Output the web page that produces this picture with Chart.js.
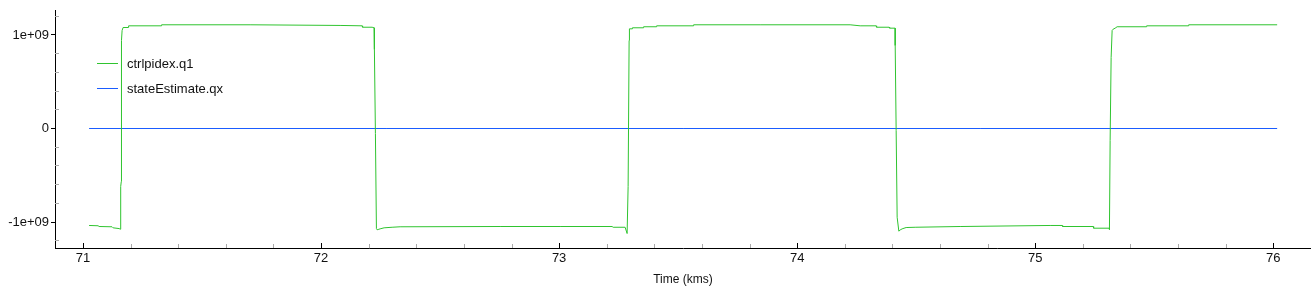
<!DOCTYPE html>
<html>
<head>
<meta charset="utf-8">
<script src="https://cdn.jsdelivr.net/npm/chart.js@4/dist/chart.umd.min.js"></script>
<style>
  html, body { margin: 0; padding: 0; background: #fff; }
  #wrap { width: 1311px; height: 289px; }
</style>
</head>
<body>
<div id="wrap"><canvas id="graphCanvas"></canvas></div>
<script>
// time in kms
var q1Time = [
    71.0252, 71.0630, 71.0672, 71.1218, 71.1261, 71.1513, 71.1567,
    71.1580, 71.1605, 71.1613, 71.1639, 71.1681, 71.1891, 71.1912, 71.3277, 71.3298,
    71.7017, 72.0798, 72.1723, 72.1744, 72.2143, 72.2227,
    72.2239, 72.2282, 72.2324, 72.2353, 72.2395, 72.2479, 72.2647, 72.2983, 72.3319,
    72.7521, 73.0042, 73.2227, 73.2270, 73.2773, 73.2857,
    73.2899, 73.2941, 73.2954, 73.3067, 73.3080, 73.3529, 73.3550, 73.4076, 73.4097,
    73.5630, 73.5651, 73.8445, 74.2227, 74.2647, 74.3319, 74.3340, 74.3866, 74.3887, 74.4118,
    74.4120, 74.4160, 74.4202, 74.4273, 74.4328, 74.4412, 74.4580, 74.4958, 74.6849,
    75.0630, 75.1134, 75.1155, 75.2437, 75.2458, 75.3109, 75.3122,
    75.3151, 75.3193, 75.3235, 75.3277, 75.3361, 75.3445, 75.4664, 75.4685,
    75.6429, 75.6450, 76.0168
];
var q1Value = [
    -1.037e9, -1.040e9, -1.048e9, -1.051e9, -1.062e9, -1.070e9, -1.077e9,
    -0.620e9, -0.567e9, 0.941e9, 1.048e9, 1.080e9, 1.080e9, 1.098e9, 1.098e9, 1.109e9,
    1.109e9, 1.102e9, 1.098e9, 1.083e9, 1.083e9, 1.077e9,
    0.845e9, -0.053e9, -1.070e9, -1.083e9, -1.080e9, -1.073e9, -1.062e9, -1.056e9, -1.051e9,
    -1.048e9, -1.048e9, -1.048e9, -1.056e9, -1.056e9, -1.123e9,
    -0.620e9, 0.941e9, 1.066e9, 1.066e9, 1.077e9, 1.077e9, 1.088e9, 1.088e9, 1.098e9,
    1.098e9, 1.109e9, 1.109e9, 1.109e9, 1.098e9, 1.098e9, 1.083e9, 1.083e9, 1.073e9, 1.073e9,
    0.888e9, -0.021e9, -0.949e9, -1.098e9, -1.085e9, -1.073e9, -1.059e9, -1.056e9, -1.048e9,
    -1.037e9, -1.037e9, -1.048e9, -1.048e9, -1.066e9, -1.066e9, -1.080e9,
    -0.128e9, 0.759e9, 1.048e9, 1.062e9, 1.073e9, 1.088e9, 1.088e9, 1.098e9,
    1.098e9, 1.109e9, 1.109e9
];
var qxTime = [71.0252, 76.0168];
var qxValue = [0, 0];

var seriesNames = ["ctrlpidex.q1", "stateEstimate.qx"];
var seriesColors = ["#2fc42f", "#1a5cff"];

var xMajorTicks = [71, 72, 73, 74, 75, 76];
var yMajorTicks = [-1e9, 0, 1e9];
var xAxisTitle = "Time (kms)";

var fontFamily = "'Liberation Sans', Helvetica, Arial, sans-serif";

function toPoints(xs, ys) {
    var pts = [];
    for (var i = 0; i < xs.length; i++) pts.push({ x: xs[i], y: ys[i] });
    return pts;
}

function fmtExp(v) {
    if (v === 0) return "0";
    var parts = v.toExponential().split("e");
    var e = parts[1];
    return parts[0] + "e" + e[0] + e.slice(1).padStart(2, "0");
}

// minor tick positions between the labelled ones
var xMinorTicks = [];
for (var i = 0; i < xMajorTicks.length - 1; i++) {
    for (var k = 1; k < 5; k++) xMinorTicks.push(xMajorTicks[i] + k * 0.2);
}
var yMinorTicks = [-1.2e9, -0.8e9, -0.6e9, -0.4e9, -0.2e9, 0.2e9, 0.4e9, 0.6e9, 0.8e9, 1.2e9];

var tickPlugin = {
    id: "ticksAndLegend",
    afterDraw: function (chart) {
        var ctx = chart.ctx;
        var xs = chart.scales.x, ys = chart.scales.y;
        var area = chart.chartArea;
        ctx.save();
        ctx.lineWidth = 1;
        // x ticks, pointing into the plot
        ctx.strokeStyle = "#aaa";
        xMinorTicks.forEach(function (v) {
            var p = Math.round(xs.getPixelForValue(v)) + 0.5;
            ctx.beginPath(); ctx.moveTo(p, area.bottom); ctx.lineTo(p, area.bottom - 4); ctx.stroke();
        });
        ctx.strokeStyle = "#000";
        xMajorTicks.forEach(function (v) {
            var p = Math.round(xs.getPixelForValue(v)) + 0.5;
            ctx.beginPath(); ctx.moveTo(p, area.bottom); ctx.lineTo(p, area.bottom - 5); ctx.stroke();
        });
        // y ticks
        ctx.strokeStyle = "#aaa";
        yMinorTicks.forEach(function (v) {
            var p = Math.floor(ys.getPixelForValue(v)) + 0.5;
            ctx.beginPath(); ctx.moveTo(area.left, p); ctx.lineTo(area.left + 4, p); ctx.stroke();
        });
        ctx.strokeStyle = "#000";
        yMajorTicks.forEach(function (v) {
            var p = Math.floor(ys.getPixelForValue(v)) + 0.5;
            ctx.beginPath(); ctx.moveTo(area.left - 4, p); ctx.lineTo(area.left, p); ctx.stroke();
        });
        // legend inside the plot
        ctx.font = "13px " + fontFamily;
        ctx.textBaseline = "middle";
        ctx.fillStyle = "#111";
        chart.data.datasets.forEach(function (ds, i) {
            var y = 63.5 + i * 25;
            ctx.strokeStyle = ds.borderColor;
            ctx.beginPath(); ctx.moveTo(97, y); ctx.lineTo(118, y); ctx.stroke();
            ctx.fillText(ds.label, 127, y + 1);
        });
        ctx.restore();
    }
};

var chartdata = {
    datasets: [
        {
            label: seriesNames[0],
            data: toPoints(q1Time, q1Value),
            borderColor: seriesColors[0],
            borderWidth: 1,
            pointRadius: 0,
            tension: 0
        },
        {
            label: seriesNames[1],
            data: toPoints(qxTime, qxValue),
            borderColor: seriesColors[1],
            borderWidth: 1,
            pointRadius: 0,
            tension: 0
        }
    ]
};

Chart.defaults.font.family = fontFamily;
Chart.defaults.font.size = 13;
Chart.defaults.color = "#111";

new Chart(document.getElementById("graphCanvas"), {
    type: "line",
    data: chartdata,
    plugins: [tickPlugin],
    options: {
        responsive: true,
        maintainAspectRatio: false,
        animation: false,
        layout: { padding: { top: 10, left: 0, right: 0, bottom: 0 } },
        plugins: {
            legend: { display: false },
            tooltip: { enabled: false }
        },
        scales: {
            x: {
                type: "linear",
                min: 70.882,
                max: 76.159,
                afterBuildTicks: function (s) {
                    s.ticks = xMajorTicks.map(function (v) { return { value: v }; });
                },
                afterFit: function (s) {
                    s.height = 41;
                    s.paddingLeft = 0;
                    s.paddingRight = 0;
                },
                grid: { display: false, drawTicks: false },
                border: { display: true, color: "#000", width: 1 },
                ticks: { padding: 3, maxRotation: 0, autoSkip: false, color: "#111" },
                title: {
                    display: true,
                    text: xAxisTitle,
                    font: { size: 12 },
                    color: "#111",
                    padding: { top: 0, bottom: 2 }
                }
            },
            y: {
                type: "linear",
                min: -1.2778e9,
                max: 1.2672e9,
                afterBuildTicks: function (s) {
                    s.ticks = yMajorTicks.map(function (v) { return { value: v }; });
                },
                afterFit: function (s) {
                    s.width = 55;
                    s.paddingTop = 0;
                    s.paddingBottom = 0;
                },
                grid: { display: false, drawTicks: false },
                border: { display: true, color: "#000", width: 1 },
                ticks: {
                    padding: 6,
                    color: "#111",
                    callback: function (v) { return fmtExp(v); }
                }
            }
        }
    }
});
</script>
</body>
</html>
